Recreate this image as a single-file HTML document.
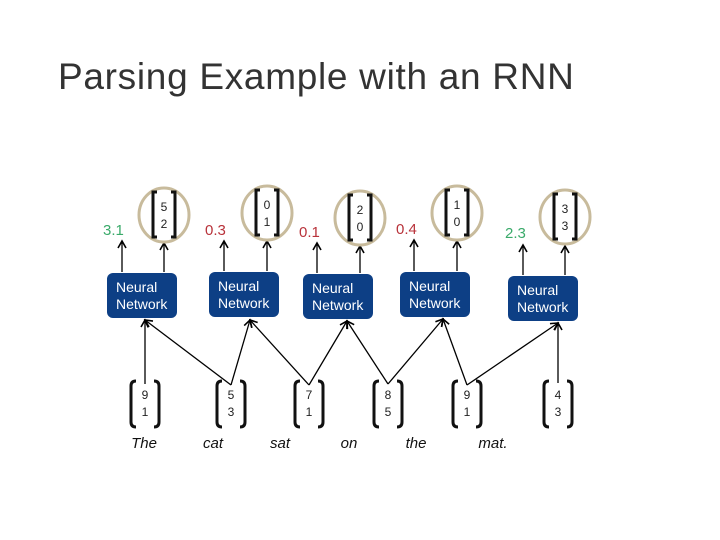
<!DOCTYPE html>
<html><head><style>
html,body{margin:0;padding:0;background:#fff;}
body{width:720px;height:540px;position:relative;overflow:hidden;font-family:"Liberation Sans",sans-serif;}
.t{position:absolute;left:58px;top:56px;font-size:37px;color:#333;letter-spacing:0.7px;}
</style></head><body>
<div class="t">Parsing Example with an RNN</div>
<svg width="720" height="540" style="position:absolute;left:0;top:0" font-family="Liberation Sans, sans-serif">
<defs><marker id="a" markerWidth="10" markerHeight="10" refX="8" refY="5" orient="auto" markerUnits="userSpaceOnUse"><path d="M1,1 L8,5 L1,9" fill="none" stroke="#000" stroke-width="1.6"/></marker></defs>
<g fill="#0d3f85">
<rect x="107" y="273" width="70" height="45" rx="6"/>
<rect x="209" y="272" width="70" height="45" rx="6"/>
<rect x="303" y="274" width="70" height="45" rx="6"/>
<rect x="400" y="272" width="70" height="45" rx="6"/>
<rect x="508" y="276" width="70" height="45" rx="6"/>
</g>
<g fill="#fff" font-size="14">
<text x="116" y="292">Neural</text><text x="116" y="309">Network</text>
<text x="218" y="291">Neural</text><text x="218" y="308">Network</text>
<text x="312" y="293">Neural</text><text x="312" y="310">Network</text>
<text x="409" y="291">Neural</text><text x="409" y="308">Network</text>
<text x="517" y="295">Neural</text><text x="517" y="312">Network</text>
</g>
<g font-size="15">
<text x="103" y="235" fill="#3aaa6a">3.1</text>
<text x="205" y="235" fill="#b8323a">0.3</text>
<text x="299" y="237" fill="#b8323a">0.1</text>
<text x="396" y="234" fill="#b8323a">0.4</text>
<text x="505" y="238" fill="#3aaa6a">2.3</text>
</g>
<g stroke="#000" stroke-width="1.3" marker-end="url(#a)">
<line x1="122" y1="272" x2="122" y2="241"/><line x1="164" y1="272" x2="164" y2="243"/>
<line x1="224" y1="271" x2="224" y2="241"/><line x1="267" y1="271" x2="267" y2="241"/>
<line x1="317" y1="273" x2="317" y2="243"/><line x1="360" y1="273" x2="360" y2="246"/>
<line x1="414" y1="271" x2="414" y2="240"/><line x1="457" y1="271" x2="457" y2="241"/>
<line x1="523" y1="275" x2="523" y2="245"/><line x1="565" y1="275" x2="565" y2="246"/>
<line x1="145" y1="384" x2="145" y2="320"/>
<line x1="231" y1="385" x2="145" y2="320"/>
<line x1="231" y1="385" x2="250" y2="320"/>
<line x1="309" y1="385" x2="250" y2="320"/>
<line x1="309" y1="385" x2="347" y2="321"/>
<line x1="388" y1="384" x2="347" y2="321"/>
<line x1="388" y1="384" x2="443" y2="319"/>
<line x1="467" y1="385" x2="443" y2="319"/>
<line x1="467" y1="385" x2="558" y2="323"/>
<line x1="558" y1="383" x2="558" y2="323"/>
</g>
<g fill="none" stroke="#c8bb9c" stroke-width="3">
<ellipse cx="164" cy="215" rx="25" ry="27"/>
<ellipse cx="267" cy="213" rx="25" ry="27"/>
<ellipse cx="360" cy="218" rx="25" ry="27"/>
<ellipse cx="457" cy="213" rx="25" ry="27"/>
<ellipse cx="565" cy="217" rx="25" ry="27"/>
</g>
<g fill="none" stroke="#111" stroke-width="3">
<path d="M157,192 h-4 v45 h4 M171,192 h4 v45 h-4"/>
<path d="M260,190 h-4 v45 h4 M274,190 h4 v45 h-4"/>
<path d="M353,195 h-4 v45 h4 M367,195 h4 v45 h-4"/>
<path d="M450,190 h-4 v45 h4 M464,190 h4 v45 h-4"/>
<path d="M558,194 h-4 v45 h4 M572,194 h4 v45 h-4"/>
<path d="M136,381 q-5,0 -5,5 v36 q0,5 5,5 M154,381 q5,0 5,5 v36 q0,5 -5,5"/>
<path d="M222,381 q-5,0 -5,5 v36 q0,5 5,5 M240,381 q5,0 5,5 v36 q0,5 -5,5"/>
<path d="M300,381 q-5,0 -5,5 v36 q0,5 5,5 M318,381 q5,0 5,5 v36 q0,5 -5,5"/>
<path d="M379,381 q-5,0 -5,5 v36 q0,5 5,5 M397,381 q5,0 5,5 v36 q0,5 -5,5"/>
<path d="M458,381 q-5,0 -5,5 v36 q0,5 5,5 M476,381 q5,0 5,5 v36 q0,5 -5,5"/>
<path d="M549,381 q-5,0 -5,5 v36 q0,5 5,5 M567,381 q5,0 5,5 v36 q0,5 -5,5"/>
</g>
<g font-size="12" text-anchor="middle" fill="#222">
<text x="164" y="211">5</text><text x="164" y="228">2</text>
<text x="267" y="209">0</text><text x="267" y="226">1</text>
<text x="360" y="214">2</text><text x="360" y="231">0</text>
<text x="457" y="209">1</text><text x="457" y="226">0</text>
<text x="565" y="213">3</text><text x="565" y="230">3</text>
<text x="145" y="399">9</text><text x="145" y="416">1</text>
<text x="231" y="399">5</text><text x="231" y="416">3</text>
<text x="309" y="399">7</text><text x="309" y="416">1</text>
<text x="388" y="399">8</text><text x="388" y="416">5</text>
<text x="467" y="399">9</text><text x="467" y="416">1</text>
<text x="558" y="399">4</text><text x="558" y="416">3</text>
</g>
<g font-size="15" font-style="italic" text-anchor="middle" fill="#111">
<text x="144" y="448">The</text><text x="213" y="448">cat</text><text x="280" y="448">sat</text>
<text x="349" y="448">on</text><text x="416" y="448">the</text><text x="493" y="448">mat.</text>
</g>
</svg>
</body></html>
